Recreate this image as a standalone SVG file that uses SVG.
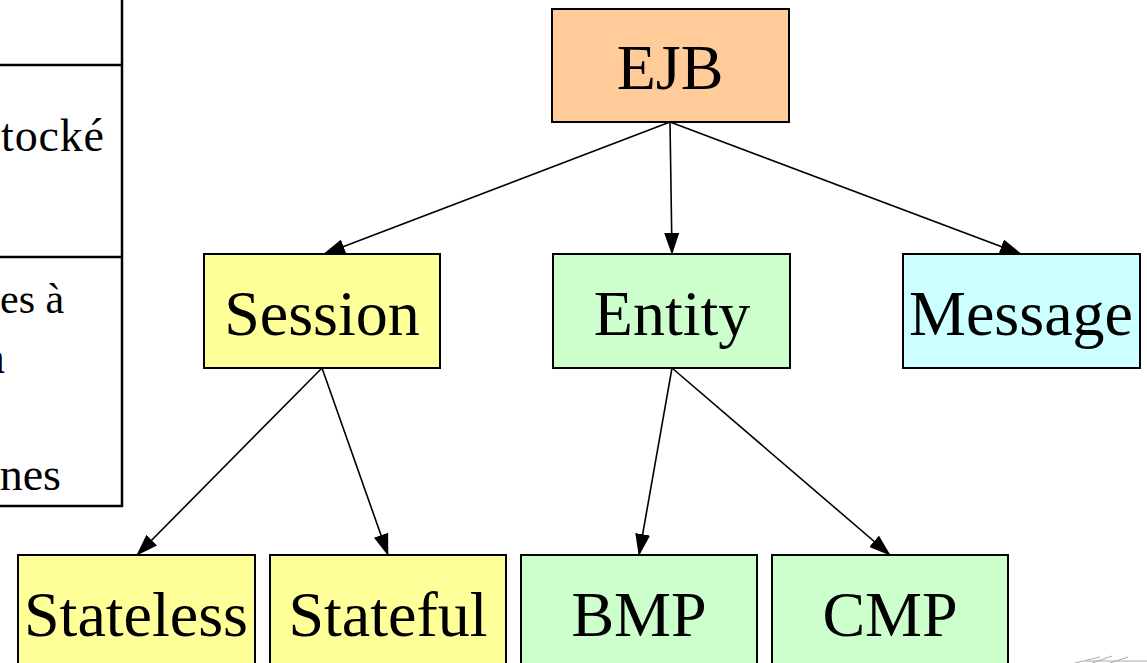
<svg xmlns="http://www.w3.org/2000/svg" width="1147" height="663" viewBox="0 0 1147 663">
<style>
.box{stroke:#000;stroke-width:2}
.lbl{font-family:"Liberation Serif","Times New Roman",serif;font-size:64px;fill:#000;text-anchor:middle}
.tbl{font-family:"Liberation Serif","Times New Roman",serif;font-size:46px;fill:#000}
.edge{stroke:#000;stroke-width:1.6;fill:none;marker-end:url(#ah)}
.grid{stroke:#000;stroke-width:2.5;fill:none}
</style>
<defs>
<marker id="ah" markerWidth="22" markerHeight="15" refX="21" refY="7.5" orient="auto" markerUnits="userSpaceOnUse">
<path d="M0,0 L22,7.5 L0,15 Z" fill="#000"/>
</marker>
</defs>
<rect width="1147" height="663" fill="#fff"/>
<g id="table">
<path class="grid" d="M122,0 V506 H0 M0,65 H122 M0,257 H122"/>
<text class="tbl" x="1" y="151" textLength="103" lengthAdjust="spacing">tocké</text>
<text class="tbl" x="0" y="313" style="font-size:42px">es à</text>
<text class="tbl" x="5" y="373" text-anchor="end">a</text>
<text class="tbl" x="61" y="490" text-anchor="end">nes</text>
</g>
<g id="connectors">
<line class="edge" x1="670" y1="122" x2="324" y2="254"/>
<line class="edge" x1="670" y1="122" x2="672" y2="254"/>
<line class="edge" x1="670" y1="122" x2="1021" y2="254"/>
<line class="edge" x1="322" y1="368" x2="137" y2="555"/>
<line class="edge" x1="322" y1="368" x2="388" y2="555"/>
<line class="edge" x1="672" y1="368" x2="639" y2="555"/>
<line class="edge" x1="672" y1="368" x2="890" y2="555"/>
</g>
<g id="node-ejb">
<rect class="box" x="552" y="9" width="237" height="113" fill="#FFCC99"/>
<text class="lbl" x="670" y="89">EJB</text>
</g>
<g id="node-session">
<rect class="box" x="204" y="254" width="236" height="114" fill="#FFFF99"/>
<text class="lbl" x="322" y="335">Session</text>
</g>
<g id="node-entity">
<rect class="box" x="553" y="254" width="237" height="114" fill="#CCFFCC"/>
<text class="lbl" x="672" y="335">Entity</text>
</g>
<g id="node-message">
<rect class="box" x="903" y="254" width="237" height="114" fill="#CCFFFF"/>
<text class="lbl" x="1021" y="335">Message</text>
</g>
<g id="node-stateless">
<rect class="box" x="18" y="555" width="237" height="120" fill="#FFFF99"/>
<text class="lbl" x="136" y="636">Stateless</text>
</g>
<g id="node-stateful">
<rect class="box" x="270" y="555" width="236" height="120" fill="#FFFF99"/>
<text class="lbl" x="388" y="636">Stateful</text>
</g>
<g id="node-bmp">
<rect class="box" x="521" y="555" width="236" height="120" fill="#CCFFCC"/>
<text class="lbl" x="639" y="636">BMP</text>
</g>
<g id="node-cmp">
<rect class="box" x="772" y="555" width="236" height="120" fill="#CCFFCC"/>
<text class="lbl" x="890" y="636">CMP</text>
</g>
<g id="decor" stroke="#aaa" stroke-width="1">
<path d="M1075,663 L1100,657 M1092,663 L1112,656 M1110,663 L1128,657 M1085,661 H1147" fill="none"/>
</g>
</svg>
